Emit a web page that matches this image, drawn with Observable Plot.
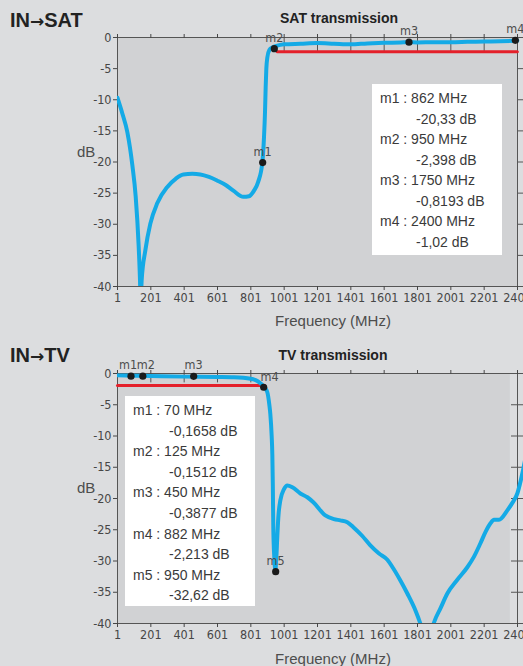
<!DOCTYPE html>
<html><head><meta charset="utf-8">
<script src="https://cdn.jsdelivr.net/npm/d3@7"></script>
<script src="https://cdn.jsdelivr.net/npm/@observablehq/plot@0.6"></script>
<style>
body{margin:0;background:#dcdddf;width:523px;height:666px;overflow:hidden;position:relative;font-family:"Liberation Sans",Arial,sans-serif;}
.abs{position:absolute;line-height:1;white-space:nowrap;}
.title{font-weight:bold;font-size:20px;color:#222;}
.title .arr{font-family:"DejaVu Sans",sans-serif;font-size:17px;font-weight:bold;}
.sub{font-weight:bold;font-size:14px;color:#222;transform:translateX(-50%);}
.axl{font-size:15px;color:#4d4d4d;}
.ctr{transform:translateX(-50%);}
.legend{position:absolute;background:#fff;font-size:14px;color:#3a3a3a;line-height:20.5px;box-sizing:border-box;padding:4px 0 0 8px;white-space:nowrap;}
.legend .v{padding-left:36px}
#c1,#c2{position:absolute;left:0;}
#c1{top:0}#c2{top:333px}
</style></head><body>
<div id="c1"></div>
<div id="c2"></div>
<div class="abs title" style="left:10px;top:10px">IN<span class="arr">→</span>SAT</div>
<div class="abs sub" style="left:339px;top:11px">SAT transmission</div>
<div class="abs axl ctr" style="left:333px;top:313px">Frequency (MHz)</div>
<div class="abs axl" style="left:77px;top:144px">dB</div>
<div class="abs title" style="left:10px;top:345px">IN<span class="arr">→</span>TV</div>
<div class="abs sub" style="left:333px;top:348px">TV transmission</div>
<div class="abs axl ctr" style="left:333px;top:651px">Frequency (MHz)</div>
<div class="abs axl" style="left:77px;top:480px">dB</div>
<div id="leg1" class="legend" style="left:372px;top:84px;width:130px;height:171px"></div>
<div id="leg2" class="legend" style="left:125px;top:396px;width:130px;height:210px;line-height:20.6px"></div>
<script>
// ---- axis ticks ----
const xTicks = [1, 201, 401, 601, 801, 1001, 1201, 1401, 1601, 1801, 2001, 2201, 2401];
const yTicks = [0, -5, -10, -15, -20, -25, -30, -35, -40];

// ---- SAT transmission curve ----
const satFreq = [1, 30, 60, 90, 110, 128, 136, 140, 146, 168, 198, 240, 300, 350, 396, 450, 498, 550, 600, 650, 696, 756, 790, 820, 845, 870, 880, 886, 890, 894, 900, 912, 930, 950, 1000, 1100, 1200, 1300, 1400, 1500, 1600, 1700, 1750, 1800, 1900, 2000, 2100, 2200, 2300, 2400];
const satDb = [-9.7, -12.2, -15.2, -20.5, -25.5, -33.5, -39, -43, -39, -34.2, -29.9, -26.6, -24.0, -22.7, -22.0, -21.9, -22.0, -22.4, -23.0, -23.7, -24.6, -25.6, -25.5, -24.6, -23.2, -20.1, -16, -12, -8, -5, -3.2, -2.0, -1.6, -1.4, -1.1, -1.0, -0.9, -1.0, -1.1, -0.95, -0.85, -0.8, -0.75, -0.8, -0.75, -0.75, -0.7, -0.65, -0.6, -0.5];
const satLimitFreq = [960, 2400];
const satLimitDb = [-2.3, -2.3];
const satMarkerNames = ["m1", "m2", "m3", "m4"];
const satMarkerFreq = [862, 950, 1750, 2400];               // legend values
const satMarkerDb = [-20.33, -2.398, -0.8193, -1.02];       // legend values
const satMarkerShownFreq = [872, 942, 1750, 2388];          // dots as drawn
const satMarkerShownDb = [-20.1, -1.8, -0.75, -0.45];

// ---- TV transmission curve ----
const tvFreq = [1, 100, 200, 400, 600, 700, 800, 840, 860, 882, 900, 912, 918, 926, 930, 933, 936, 942, 948, 954, 960, 966, 978, 1000, 1020, 1050, 1098, 1140, 1176, 1248, 1300, 1338, 1380, 1416, 1470, 1518, 1570, 1620, 1656, 1700, 1740, 1790, 1818, 1850, 1870, 1898, 1940, 1980, 2040, 2100, 2140, 2178, 2210, 2238, 2260, 2290, 2340, 2370, 2400, 2430, 2460];
const tvDb = [-0.3, -0.35, -0.4, -0.5, -0.55, -0.6, -0.85, -1.2, -1.6, -2.2, -3.0, -5, -6.5, -10, -13, -18, -25, -29.5, -31.5, -29.5, -26, -23, -20.3, -18.5, -17.9, -18.2, -19.2, -19.8, -20.6, -22.7, -23.3, -23.5, -23.8, -24.6, -26, -27.5, -28.8, -29.8, -31.2, -33.2, -35.2, -38, -40, -43, -43, -40, -37.5, -35.2, -33, -31, -29.3, -27.2, -25.3, -24, -23.4, -23.4, -21.9, -20.7, -19.2, -16, -12];
const tvLimitFreq = [1, 882];
const tvLimitDb = [-1.9, -1.9];
const tvMarkerNames = ["m1", "m2", "m3", "m4", "m5"];
const tvMarkerFreq = [70, 125, 450, 882, 950];                   // legend values
const tvMarkerDb = [-0.1658, -0.1512, -0.3877, -2.213, -32.62];  // legend values
const tvMarkerShownFreq = [82, 153, 458, 878, 950];              // dots as drawn
const tvMarkerShownDb = [-0.43, -0.43, -0.45, -2.2, -31.7];

const zip = (f, d) => f.map((v, i) => ({f: v, db: d[i]}));
const fmt = v => String(v).replace(".", ",");

function chart(o) {
  const markers = o.names.map((n, i) => ({name: n, f: o.mf[i], db: o.mdb[i]}));
  const ax = "#555";
  const lab = (names, dx, dy) => Plot.text(markers.filter(m => names.includes(m.name)), {x: "f", y: "db", text: "name", dx, dy, fill: "#4d4d4d", fontSize: 12.5});
  const special = [...o.left, ...o.right, ...o.side];
  return Plot.plot({
    width: 523, height: 333,
    marginLeft: 117, marginRight: 0, marginTop: o.mt, marginBottom: o.mb,
    x: {domain: [1, 2401], range: [117, 517]},
    y: {domain: [-40, 0], range: [333 - o.mb, o.mt]},
    style: {background: "transparent", fontFamily: "'Liberation Sans Narrow','DejaVu Sans Condensed',sans-serif", fontSize: "12.5px", color: "#464646", overflow: "visible"},
    marks: [
      Plot.rect([0], {x1: 1, x2: o.bgEnd, y1: -40, y2: 0, fill: "#d1d2d4"}),
      Plot.ruleX(o.inTicks, {y1: 0, y2: o.inLen, stroke: ax}),
      Plot.ruleY(yTicks, {x1: o.rtStart, x2: 2440, stroke: ax}),
      Plot.ruleX([2401], {stroke: ax}),
      Plot.ruleY([0], {x1: 1, x2: 2401, stroke: ax}),
      Plot.ruleY([-40], {x1: 1, x2: 2401, stroke: ax}),
      Plot.ruleX([1], {stroke: ax}),
      Plot.axisX({ticks: xTicks, anchor: "bottom", tickSize: 4, tickPadding: 3, label: null, tickFormat: d => String(d)}),
      Plot.axisX({ticks: o.topTicks, anchor: "top", tickSize: 4, label: null, tickFormat: () => ""}),
      Plot.axisY({ticks: yTicks, anchor: "left", tickSize: 4, tickPadding: 2, label: null, tickFormat: d => String(d)}),
      Plot.line(zip(o.limF, o.limD), {x: "f", y: "db", stroke: "#e4202a", strokeWidth: 3}),
      Plot.line(zip(o.cf, o.cd), {x: "f", y: "db", stroke: "#14aae6", strokeWidth: 4, curve: "monotone-x", clip: true}),
      Plot.dot(markers, {x: "f", y: "db", r: 3.6, fill: "#1b1b1b"}),
      lab(o.names.filter(n => !special.includes(n)), 0, -11),
      lab(o.left, -3, -11),
      lab(o.right, 3, -11),
      lab(o.side, 6, -10)
    ]
  });
}

document.getElementById("c1").append(chart({
  mt: 37, mb: 47, bgEnd: 2401, rtStart: 2401, inTicks: [1001, 1201, 1401, 1601, 1801, 2001, 2201], inLen: -2.3,
  topTicks: xTicks, cf: satFreq, cd: satDb, limF: satLimitFreq, limD: satLimitDb,
  names: satMarkerNames, mf: satMarkerShownFreq, mdb: satMarkerShownDb, left: [], right: [], side: []
}));
document.getElementById("c2").append(chart({
  mt: 40, mb: 43, bgEnd: 2358, rtStart: 2365, inTicks: [201, 401, 601, 801], inLen: -1.5,
  topTicks: xTicks, cf: tvFreq, cd: tvDb, limF: tvLimitFreq, limD: tvLimitDb,
  names: tvMarkerNames, mf: tvMarkerShownFreq, mdb: tvMarkerShownDb, left: ["m1"], right: ["m2"], side: ["m4"]
}));

function legend(id, names, freqs, dbs) {
  const el = document.getElementById(id);
  names.forEach((n, i) => {
    const a = document.createElement("div"); a.textContent = `${n} : ${freqs[i]} MHz`; el.append(a);
    const b = document.createElement("div"); b.className = "v"; b.textContent = `${fmt(dbs[i])} dB`; el.append(b);
  });
}
legend("leg1", satMarkerNames, satMarkerFreq, satMarkerDb);
legend("leg2", tvMarkerNames, tvMarkerFreq, tvMarkerDb);
</script>
</body></html>
